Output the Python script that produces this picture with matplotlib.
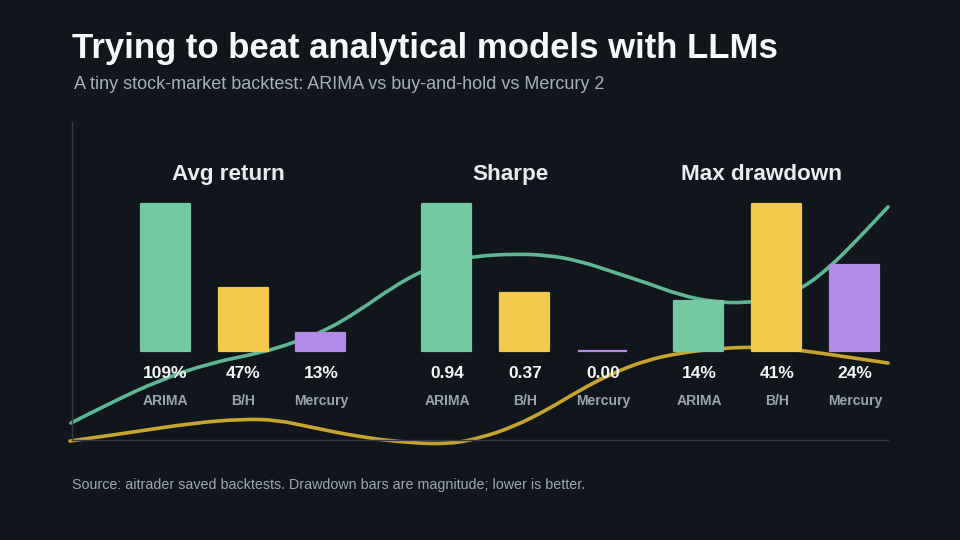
import matplotlib
matplotlib.use('Agg')
from matplotlib import pyplot as plt
from matplotlib.path import Path
from matplotlib.patches import PathPatch

plt.rcParams['font.family'] = ['Liberation Sans', 'DejaVu Sans']

# Data
METRICS = ['Avg return', 'Sharpe', 'Max drawdown']
MODELS = ['ARIMA', 'B/H', 'Mercury']
AVG_RETURN = [109, 47, 13]
SHARPE = [0.94, 0.37, 0.00]
MAX_DRAWDOWN = [14, 41, 24]
VALUE_FORMATS = ['{:.0f}%', '{:.2f}', '{:.0f}%']

# Decorative background curves (pixel positions on the 960x540 canvas)
GREEN_X = [71, 110, 160, 210, 260, 293, 327, 360, 393, 420, 443, 477, 513, 547,
           580, 613, 647, 680, 713, 745, 775, 803, 830, 857, 888]
GREEN_Y = [423, 403, 380, 363, 353, 343, 330, 310, 287, 272, 262, 256, 254, 255,
           261, 272, 283, 295, 302, 303, 299, 288, 267, 240, 207]
GOLD_X = [70, 127, 193, 243, 277, 310, 360, 410, 450, 480, 513, 547, 580, 613,
          647, 680, 713, 747, 780, 813, 847, 888]
GOLD_Y = [441, 433, 423, 419, 420, 427, 437, 443, 444, 438, 427, 410, 390, 373,
          360, 353, 349, 347, 348, 352, 357, 363]

BG = '#10161c'
BAR_COLORS = ['#72c9a2', '#f2c94c', '#b48ae9']
GREEN_LINE = '#5db792'
GOLD_LINE = '#c9a32f'
AXIS_COLOR = '#353c45'

GROUP_CENTERS = [243, 525, 777]
BAR_STEP = 78
BAR_WIDTH = 51
BAR_PX = 147.0  # pixel height of the tallest bar in each group
BASE_PX = 351
TOP_PX, BOTTOM_PX = 122, 440
LEFT_PX, RIGHT_PX = 72, 888


def smooth_path(xs, ys):
    # quadratic curve through midpoints of the read points
    pts = list(zip(xs, ys))
    verts = [pts[0]]
    codes = [Path.MOVETO]
    for i in range(1, len(pts) - 1):
        mid = ((pts[i][0] + pts[i + 1][0]) / 2, (pts[i][1] + pts[i + 1][1]) / 2)
        verts += [pts[i], mid]
        codes += [Path.CURVE3, Path.CURVE3]
    verts.append(pts[-1])
    codes.append(Path.LINETO)
    return Path(verts, codes)


def main():
    fig = plt.figure(figsize=(9.6, 5.4), dpi=100, facecolor=BG)
    rect = [LEFT_PX / 960, 1 - BOTTOM_PX / 540, (RIGHT_PX - LEFT_PX) / 960,
            (BOTTOM_PX - TOP_PX) / 540]

    # Curves and frame (pixel coordinates)
    ax_bg = fig.add_axes(rect, zorder=0)
    ax_bg.set_facecolor(BG)
    ax_bg.set_xlim(LEFT_PX, RIGHT_PX)
    ax_bg.set_ylim(BOTTOM_PX, TOP_PX)
    for x_pts, y_pts, col in [(GOLD_X, GOLD_Y, GOLD_LINE), (GREEN_X, GREEN_Y, GREEN_LINE)]:
        ax_bg.add_patch(PathPatch(smooth_path(x_pts, y_pts), fill=False,
                                  edgecolor=col, linewidth=2.6, capstyle='round',
                                  clip_on=False))
    ax_bg.set_xticks([])
    ax_bg.set_yticks([])
    for side in ['top', 'right']:
        ax_bg.spines[side].set_visible(False)
    for side in ['left', 'bottom']:
        ax_bg.spines[side].set_color(AXIS_COLOR)
        ax_bg.spines[side].set_linewidth(1.0)

    # Bars (x in pixels, y in fraction of group max)
    ax = fig.add_axes(rect, zorder=1)
    ax.patch.set_alpha(0)
    ax.set_xlim(LEFT_PX, RIGHT_PX)
    ax.set_ylim(-(BOTTOM_PX - BASE_PX) / BAR_PX, (BASE_PX - TOP_PX) / BAR_PX)
    ax.axis('off')

    series = [AVG_RETURN, SHARPE, MAX_DRAWDOWN]
    for g, (metric, values, fmt) in enumerate(zip(METRICS, series, VALUE_FORMATS)):
        peak = max(values)
        xs = [GROUP_CENTERS[g] + (i - 1) * BAR_STEP for i in range(len(values))]
        heights = [v / peak for v in values]
        ax.bar(xs, heights, width=BAR_WIDTH - 2, color=BAR_COLORS,
               edgecolor=BAR_COLORS, linewidth=1.6, joinstyle='round')
        for x, v, name in zip(xs, values, MODELS):
            ax.text(x, -22 / BAR_PX, fmt.format(v), ha='center', va='center',
                    color='#f4f6f8', fontsize=12.5, fontweight='bold')
            ax.text(x, -50 / BAR_PX, name, ha='center', va='center',
                    color='#9aa4af', fontsize=10.1, fontweight='bold')
        ax.text(GROUP_CENTERS[g] - 15, (BASE_PX - 180) / BAR_PX, metric,
                ha='center', va='baseline', color='#e8edf2', fontsize=16.2,
                fontweight='bold')

    fig.text(72 / 960, 1 - 58 / 540, 'Trying to beat analytical models with LLMs',
             ha='left', va='baseline', color='#f7f8fa', fontsize=25, fontweight='bold')
    fig.text(74 / 960, 1 - 89 / 540,
             'A tiny stock-market backtest: ARIMA vs buy-and-hold vs Mercury 2',
             ha='left', va='baseline', color='#a7b0ba', fontsize=13)
    fig.text(72 / 960, 1 - 489 / 540,
             'Source: aitrader saved backtests. Drawdown bars are magnitude; lower is better.',
             ha='left', va='baseline', color='#9ea7b0', fontsize=10.3)

    fig.savefig('out.png', dpi=100, facecolor=BG)


main()
